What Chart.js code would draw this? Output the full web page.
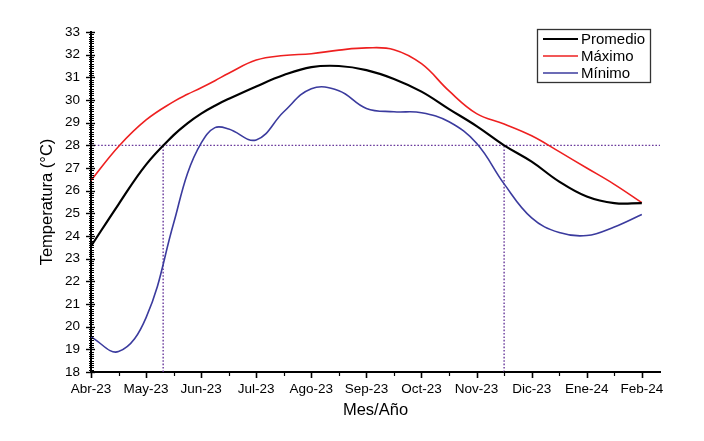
<!DOCTYPE html>
<html>
<head>
<meta charset="utf-8">
<script src="https://cdn.jsdelivr.net/npm/chart.js@4/dist/chart.umd.min.js"></script>
<style>
  html, body { margin: 0; padding: 0; background: #ffffff; }
  #wrap { width: 704px; height: 441px; }
</style>
</head>
<body>
<div id="wrap"><canvas id="c" width="704" height="441"></canvas></div>
<script>
// ---- data ----
const monthLabels = ['Abr-23', 'May-23', 'Jun-23', 'Jul-23', 'Ago-23', 'Sep-23', 'Oct-23', 'Nov-23', 'Dic-23', 'Ene-24', 'Feb-24'];
const samplePos = [0, 0.5, 1, 1.5, 1.75, 2, 2.25, 2.5, 3, 3.5, 4, 4.5, 5, 5.5, 6, 6.5, 7, 7.5, 8, 8.5, 9, 9.5, 10];
const promedio = [23.55, 25.4, 27.15, 28.45, 28.97, 29.4, 29.75, 30.05, 30.6, 31.1, 31.45, 31.5, 31.32, 30.93, 30.37, 29.6, 28.85, 28.0, 27.28, 26.4, 25.74, 25.45, 25.45];
const maximo   = [26.45, 27.95, 29.12, 29.93, 30.25, 30.54, 30.85, 31.18, 31.76, 31.96, 32.04, 32.2, 32.3, 32.22, 31.6, 30.4, 29.4, 28.94, 28.42, 27.72, 27.0, 26.28, 25.47];
const minimo   = [19.55, 18.9, 20.4, 24.56, 26.75, 28.1, 28.78, 28.72, 28.24, 29.48, 30.5, 30.41, 29.63, 29.48, 29.44, 29.04, 28.09, 26.3, 24.8, 24.15, 24.02, 24.4, 24.95];
const seriesNames = ['Promedio', 'Máximo', 'Mínimo'];
const refTemp = 28;              // horizontal dotted reference
const refCross = [1.31, 7.5];    // where Promedio crosses 28 °C
const yMin = 18, yMax = 33;
const xMax = 10.33;
const yTitle = 'Temperatura (°C)';
const xTitle = 'Mes/Año';

// ---- build datasets ----
const toPts = arr => arr.map((v, i) => ({ x: samplePos[i], y: v }));
const FONT = '"Liberation Sans", Arial, sans-serif';
const refColor = '#6a3a9c';

const datasets = [
  { label: seriesNames[0], data: toPts(promedio), borderColor: '#000000', borderWidth: 2.2, order: 1 },
  { label: seriesNames[1], data: toPts(maximo),   borderColor: '#ee2020', borderWidth: 1.6, order: 2 },
  { label: seriesNames[2], data: toPts(minimo),   borderColor: '#3b3b9e', borderWidth: 1.6, order: 3 },
  { label: 'ref-h', data: [{ x: 0, y: refTemp }, { x: xMax, y: refTemp }], borderColor: refColor, borderWidth: 1.4, borderDash: [1.6, 1.8], tension: 0, order: 5, isRef: true },
  { label: 'ref-v1', data: [{ x: refCross[0], y: yMin }, { x: refCross[0], y: refTemp }], borderColor: refColor, borderWidth: 1.4, borderDash: [1.6, 1.8], tension: 0, order: 5, isRef: true },
  { label: 'ref-v2', data: [{ x: refCross[1], y: yMin }, { x: refCross[1], y: refTemp }], borderColor: refColor, borderWidth: 1.4, borderDash: [1.6, 1.8], tension: 0, order: 5, isRef: true }
];

// ---- plugin: axis tick marks (major + minor) and boxed legend ----
const decor = {
  id: 'decor',
  afterDraw(chart) {
    const { ctx, chartArea: ca, scales: { x, y } } = chart;
    ctx.save();
    ctx.strokeStyle = '#000';
    ctx.lineWidth = 1;
    // y ticks: minor each 0.1, major each 1
    for (let k = yMin * 10; k <= yMax * 10; k++) {
      const major = k % 10 === 0;
      const py = Math.round(y.getPixelForValue(k / 10)) + 0.5;
      ctx.lineWidth = major ? 1.4 : 1;
      ctx.beginPath();
      ctx.moveTo(ca.left - (major ? 5 : 2), py);
      ctx.lineTo(ca.left + (major ? 4 : 3), py);
      ctx.stroke();
    }
    // x ticks: major each month, minor each half month
    for (let k = 0; k <= (monthLabels.length - 1) * 2; k++) {
      const major = k % 2 === 0;
      const px = Math.round(x.getPixelForValue(k / 2)) + 0.5;
      ctx.lineWidth = major ? 1.6 : 1.2;
      ctx.beginPath();
      ctx.moveTo(px, ca.bottom - 1);
      ctx.lineTo(px, ca.bottom + (major ? 6 : 4));
      ctx.stroke();
    }
    // legend box
    const bx = 537, by = 29, bw = 113, bh = 53;
    ctx.fillStyle = '#ffffff';
    ctx.fillRect(bx, by, bw, bh);
    ctx.strokeStyle = '#333';
    ctx.lineWidth = 1.3;
    ctx.strokeRect(bx + 0.5, by + 0.5, bw, bh);
    ctx.font = '15px ' + FONT;
    ctx.textBaseline = 'alphabetic';
    ctx.textAlign = 'left';
    const items = chart.data.datasets.filter(d => !d.isRef);
    items.forEach((d, i) => {
      const ly = by + 10 + i * 17;
      ctx.strokeStyle = d.borderColor;
      ctx.lineWidth = d.borderWidth;
      ctx.setLineDash([]);
      ctx.beginPath();
      ctx.moveTo(bx + 6, ly);
      ctx.lineTo(bx + 41, ly);
      ctx.stroke();
      ctx.fillStyle = '#000';
      ctx.fillText(d.label, bx + 44, ly + 5.4);
    });
    ctx.restore();
  }
};

new Chart(document.getElementById('c'), {
  type: 'line',
  data: { datasets },
  options: {
    responsive: false,
    animation: false,
    devicePixelRatio: 1,
    layout: { padding: { left: 0, top: 32, right: 44, bottom: 0 } },
    elements: { point: { radius: 0 }, line: { tension: 0.4, fill: false } },
    plugins: { legend: { display: false }, tooltip: { enabled: false } },
    scales: {
      x: {
        type: 'linear',
        min: 0,
        max: xMax,
        afterFit(scale) { scale.height = 69; },
        afterBuildTicks(scale) { scale.ticks = monthLabels.map((_, i) => ({ value: i })); },
        grid: { drawOnChartArea: false, drawTicks: false },
        border: { display: true, color: '#000', width: 2 },
        ticks: {
          autoSkip: false,
          maxRotation: 0,
          padding: 9,
          color: '#000',
          font: { family: FONT, size: 13.5 },
          callback: v => monthLabels[v]
        },
        title: {
          display: true,
          text: xTitle,
          color: '#000',
          font: { family: FONT, size: 16.5 },
          padding: { top: 0, bottom: 21 }
        }
      },
      y: {
        min: yMin,
        max: yMax,
        afterFit(scale) { scale.width = 91; },
        grid: { drawOnChartArea: false, drawTicks: false },
        border: { display: true, color: '#000', width: 2 },
        ticks: {
          stepSize: 1,
          padding: 11,
          color: '#000',
          font: { family: FONT, size: 13.5 }
        },
        title: {
          display: true,
          text: yTitle,
          color: '#000',
          font: { family: FONT, size: 16.5 },
          padding: { top: 37.5, bottom: 0 }
        }
      }
    }
  },
  plugins: [decor]
});
</script>
</body>
</html>
